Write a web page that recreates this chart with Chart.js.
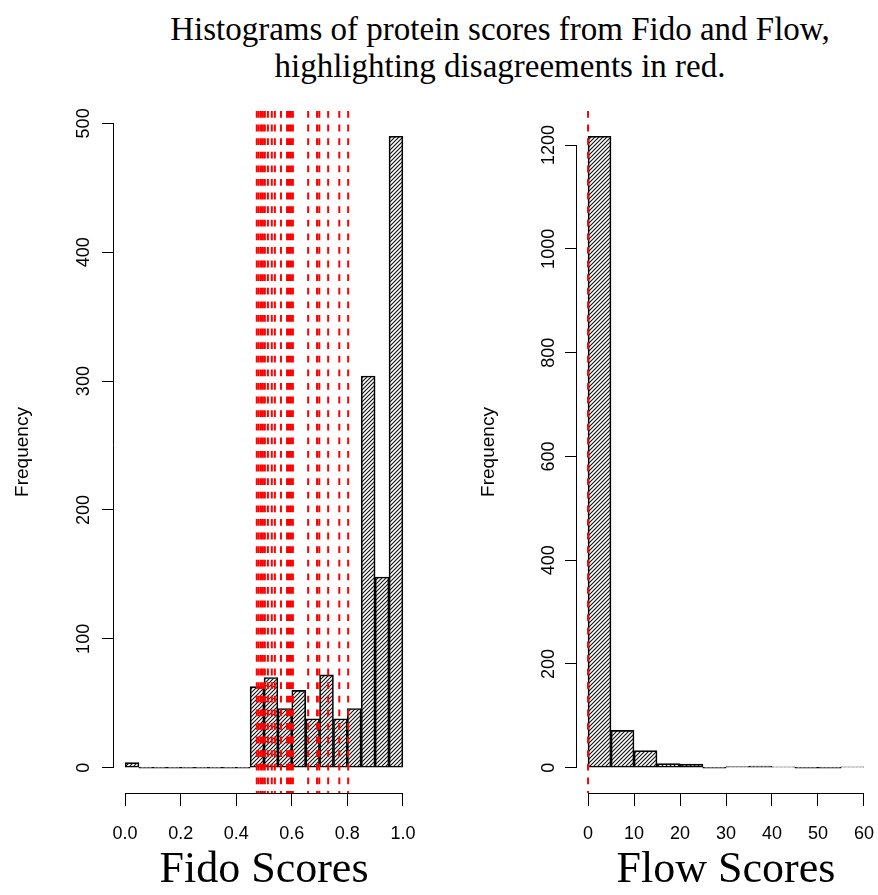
<!DOCTYPE html>
<html>
<head>
<meta charset="utf-8">
<script src="https://cdn.jsdelivr.net/npm/chart.js@4"></script>
<style>
  body { margin: 0; background: #fff; overflow: hidden; }
  #wrap { position: relative; width: 878px; height: 895px; overflow: hidden; }
  #title {
    position: absolute; left: 122px; top: 11px; width: 756px;
    font-family: "Liberation Serif", "DejaVu Serif", serif;
    font-size: 33px; line-height: 37px; text-align: center; color: #000;
  }
  canvas { position: absolute; top: 0; }
  #fido { left: 0; }
  #flow { left: 440px; }
</style>
</head>
<body>
<div id="wrap">
  <div id="title">Histograms of protein scores from Fido and Flow,<br>highlighting disagreements in red.</div>
  <canvas id="fido" width="440" height="895"></canvas>
  <canvas id="flow" width="462" height="895"></canvas>
</div>
<script>
// Fido scores: bins of width 0.05 from 0 to 1
const fidoBinStarts = [0.00, 0.05, 0.10, 0.15, 0.20, 0.25, 0.30, 0.35, 0.40, 0.45,
                       0.50, 0.55, 0.60, 0.65, 0.70, 0.75, 0.80, 0.85, 0.90, 0.95];
const fidoCounts = [4, 0, 0, 0, 0, 0, 0, 0, 0, 63, 70, 46, 60, 38, 72, 38, 46, 304, 148, 490];
const fidoXTicks = [0, 0.2, 0.4, 0.6, 0.8, 1.0];
const fidoYTicks = [0, 100, 200, 300, 400, 500];
// proteins where Fido and Flow disagree
const fidoFlags = [0.474, 0.481, 0.489, 0.496, 0.503, 0.514, 0.528, 0.539, 0.561, 0.583,
                   0.590, 0.597, 0.604, 0.659, 0.691, 0.699, 0.731, 0.771, 0.803];

// Flow scores: bins of width 5 from 0 to 60
const flowBinStarts = [0, 5, 10, 15, 20, 25, 30, 35, 40, 45, 50, 55];
const flowCounts = [1217, 72, 33, 8, 7, 0, 2, 3, 1, 0, 0, 1];
const flowXTicks = [0, 10, 20, 30, 40, 50, 60];
const flowYTicks = [0, 200, 400, 600, 800, 1000, 1200];
const flowFlags = [0];

const sans = '"Liberation Sans", Arial, sans-serif';
const serif = '"Liberation Serif", "Times New Roman", serif';

function hatch() {
    const s = 4;
    const c = document.createElement('canvas');
    c.width = s; c.height = s;
    const g = c.getContext('2d');
    g.strokeStyle = '#111';
    g.lineWidth = 1.1;
    g.beginPath();
    g.moveTo(-1, s + 1); g.lineTo(s + 1, -1);
    g.moveTo(-1, 1); g.lineTo(1, -1);
    g.moveTo(s - 1, s + 1); g.lineTo(s + 1, s - 1);
    g.stroke();
    return g.createPattern(c, 'repeat');
}

// red dashed verticals over the bars
const flagLines = {
    id: 'flagLines',
    afterDatasetsDraw(chart, args, opts) {
        const { ctx, chartArea, scales: { x } } = chart;
        ctx.save();
        ctx.strokeStyle = '#ff0000';
        ctx.lineWidth = 2;
        ctx.setLineDash([6.8, 6.8]);
        opts.values.forEach(v => {
            const px = x.getPixelForValue(v);
            ctx.beginPath();
            ctx.moveTo(px, chartArea.top);
            ctx.lineTo(px, chartArea.bottom);
            ctx.stroke();
        });
        ctx.restore();
    }
};

// R style axis lines: only from first to last tick
const axisLines = {
    id: 'axisLines',
    afterDraw(chart) {
        const { ctx, chartArea, scales: { x, y } } = chart;
        const xt = x.ticks, yt = y.ticks;
        ctx.save();
        ctx.strokeStyle = '#000';
        ctx.lineWidth = 1;
        ctx.beginPath();
        const by = Math.round(chartArea.bottom) + 0.5;
        ctx.moveTo(x.getPixelForValue(xt[0].value), by);
        ctx.lineTo(x.getPixelForValue(xt[xt.length - 1].value), by);
        const lx = Math.round(chartArea.left) - 0.5;
        ctx.moveTo(lx, y.getPixelForValue(yt[0].value));
        ctx.lineTo(lx, y.getPixelForValue(yt[yt.length - 1].value));
        ctx.stroke();
        ctx.restore();
    }
};

function histogram(id, starts, counts, width, xTicks, yTicks, flags, xTitle, xFmt, cfg) {
    const xMin = starts[0], xMax = starts[starts.length - 1] + width;
    const yMax = Math.max(...counts);
    const xPad = (xMax - xMin) * 0.04, yPad = yMax * 0.04;
    return new Chart(document.getElementById(id), {
        type: 'bar',
        data: {
            datasets: [{
                data: starts.map((s, i) => ({ x: s + width / 2, y: counts[i] })),
                backgroundColor: hatch(),
                borderColor: '#000',
                borderWidth: 1,
                borderSkipped: false,
                minBarLength: 1,
                barPercentage: 1,
                categoryPercentage: 1,
            }]
        },
        options: {
            responsive: false,
            animation: false,
            devicePixelRatio: 1,
            layout: { padding: { left: 0, right: cfg.padRight, top: 111, bottom: 0 } },
            plugins: {
                legend: { display: false },
                tooltip: { enabled: false },
                flagLines: { values: flags },
            },
            scales: {
                x: {
                    type: 'linear',
                    offset: false,
                    min: xMin - xPad, max: xMax + xPad,
                    afterBuildTicks: s => { s.ticks = xTicks.map(v => ({ value: v })); },
                    afterFit: s => { s.height = 102; },
                    border: { display: false },
                    grid: { offset: false, drawOnChartArea: false, drawTicks: true, tickLength: 13, color: '#000', lineWidth: 1 },
                    ticks: {
                        color: '#000', font: { family: sans, size: 18 }, padding: 17,
                        autoSkip: false, maxRotation: 0, callback: xFmt,
                    },
                    title: { display: true, text: xTitle, color: '#000', font: { family: serif, size: 44 }, padding: { top: 0, bottom: -2 } },
                },
                y: {
                    min: -yPad, max: yMax + yPad,
                    afterBuildTicks: s => { s.ticks = yTicks.map(v => ({ value: v })); },
                    afterFit: s => { s.width = cfg.yWidth; },
                    border: { display: false },
                    grid: { drawOnChartArea: false, drawTicks: true, tickLength: 12, color: '#000', lineWidth: 1 },
                    ticks: {
                        color: '#000', font: { family: sans, size: 18 }, padding: cfg.tickPad,
                        autoSkip: false, minRotation: 90, maxRotation: 90, crossAlign: 'center',
                        callback: v => String(v),
                    },
                    title: { display: true, text: 'Frequency', color: '#000', font: { family: sans, size: 19 }, padding: { top: cfg.titlePad, bottom: 0 } },
                }
            }
        },
        plugins: [flagLines, axisLines]
    });
}

histogram('fido', fidoBinStarts, fidoCounts, 0.05, fidoXTicks, fidoYTicks, fidoFlags,
    'Fido Scores', v => v.toFixed(1), { padRight: 26, yWidth: 114, tickPad: 3, titlePad: 11 });
histogram('flow', flowBinStarts, flowCounts, 5, flowXTicks, flowYTicks, flowFlags,
    'Flow Scores', v => String(v), { padRight: 27, yWidth: 137, tickPad: -4, titlePad: 37 });
</script>
</body>
</html>
